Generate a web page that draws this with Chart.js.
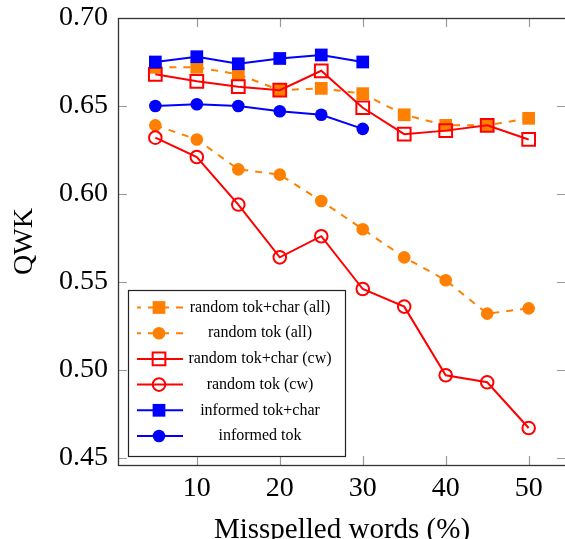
<!DOCTYPE html>
<html>
<head>
<meta charset="utf-8">
<script src="https://cdn.jsdelivr.net/npm/chart.js@4"></script>
<style>
  html, body { margin: 0; padding: 0; background: #fff; overflow: hidden; }
  #wrap { width: 565px; height: 539px; overflow: hidden; }
</style>
</head>
<body>
<div id="wrap"><canvas id="qwkChart" width="569" height="539"></canvas></div>
<script>
// 数据
const misspelled = [5, 10, 15, 20, 25, 30, 35, 40, 45, 50];
const randomTokCharAll = [0.672, 0.672, 0.668, 0.659, 0.660, 0.657, 0.645, 0.639, 0.639, 0.643];
const randomTokAll = [0.639, 0.631, 0.614, 0.611, 0.596, 0.580, 0.564, 0.551, 0.532, 0.535];
const randomTokCharCw = [0.668, 0.664, 0.661, 0.659, 0.670, 0.649, 0.634, 0.636, 0.639, 0.631];
const randomTokCw = [0.632, 0.621, 0.594, 0.564, 0.576, 0.546, 0.536, 0.497, 0.493, 0.467];
const informedTokChar = [0.675, 0.678, 0.674, 0.677, 0.679, 0.675];
const informedTok = [0.650, 0.651, 0.650, 0.647, 0.645, 0.637];

const xTicks = [10, 20, 30, 40, 50];
const yTicks = [0.45, 0.50, 0.55, 0.60, 0.65, 0.70];

const ORANGE = "#ff8000";
const RED = "#ff0000";
const BLUE = "#0000ff";
const SERIF = "'Liberation Serif', 'DejaVu Serif', serif";

const toPoints = (vals) => vals.map((v, i) => ({ x: misspelled[i], y: v }));

function series(label, vals, color, style, filled, dashed, idx) {
    return {
        label: label,
        data: toPoints(vals),
        borderColor: color,
        backgroundColor: filled ? color : "rgba(0,0,0,0)",
        borderWidth: 2,
        borderDash: dashed ? [7, 7] : [],
        pointStyle: style,
        pointRadius: style === "rect" ? 9 : 6.3,
        pointBorderWidth: filled ? 0 : 2,
        pointBackgroundColor: filled ? color : "rgba(0,0,0,0)",
        pointBorderColor: color,
        tension: 0,
        order: 10 - idx,
    };
}

// 坐标框与向内的刻度线
const framePlugin = {
    id: "frame",
    beforeDatasetsDraw(chart) {
        const { ctx, chartArea: a, scales } = chart;
        ctx.save();
        ctx.strokeStyle = "#9a9a9a";
        ctx.lineWidth = 1.2;
        const len = 9;
        ctx.beginPath();
        scales.x.ticks.forEach((t) => {
            const px = Math.round(scales.x.getPixelForValue(t.value)) + 0.5;
            ctx.moveTo(px, a.bottom); ctx.lineTo(px, a.bottom - len);
            ctx.moveTo(px, a.top); ctx.lineTo(px, a.top + len);
        });
        scales.y.ticks.forEach((t) => {
            const py = Math.round(scales.y.getPixelForValue(t.value)) + 0.5;
            ctx.moveTo(a.left, py); ctx.lineTo(a.left + len, py);
            ctx.moveTo(a.right, py); ctx.lineTo(a.right - len, py);
        });
        ctx.stroke();
        ctx.restore();
    },
    afterDatasetsDraw(chart) {
        const { ctx, chartArea: a } = chart;
        ctx.save();
        ctx.strokeStyle = "#333";
        ctx.lineWidth = 1.3;
        ctx.strokeRect(a.left + 0.5, a.top + 0.5, a.right - a.left, a.bottom - a.top);
        ctx.restore();
    },
};

// 图例（框内，线 + 标记 + 居中文字）
const legendBoxPlugin = {
    id: "legendBox",
    afterDraw(chart) {
        const { ctx, chartArea: a } = chart;
        const boxW = 217, boxH = 166;
        const left = a.left + 10;
        const top = a.bottom - 9 - boxH;
        ctx.save();
        ctx.fillStyle = "#fff";
        ctx.fillRect(left, top, boxW, boxH);
        ctx.strokeStyle = "#222";
        ctx.lineWidth = 1.2;
        ctx.strokeRect(left + 0.5, top + 0.5, boxW, boxH);

        chart.data.datasets.forEach((ds, i) => {
            const y = top + 17.5 + i * 25.7;
            const dashed = ds.borderDash.length > 0;
            ctx.strokeStyle = ds.borderColor;
            ctx.lineWidth = 2;
            ctx.setLineDash(dashed ? [7, 7] : []);
            ctx.lineDashOffset = dashed ? 3 : 0;
            ctx.beginPath();
            ctx.moveTo(left + 9, y);
            ctx.lineTo(left + 55, y);
            ctx.stroke();
            ctx.setLineDash([]);
            ctx.fillStyle = ds.pointBackgroundColor;
            ctx.strokeStyle = ds.pointBorderColor;
            ctx.lineWidth = ds.pointBorderWidth || 0.01;
            Chart.helpers.drawPoint(ctx, {
                pointStyle: ds.pointStyle,
                radius: ds.pointRadius,
                rotation: 0,
                borderWidth: ds.pointBorderWidth,
            }, left + 31, y);
            ctx.fillStyle = "#000";
            ctx.font = "16px " + SERIF;
            ctx.textAlign = "center";
            ctx.textBaseline = "middle";
            ctx.fillText(ds.label, left + 132, y);
        });
        ctx.restore();
    },
};

window.addEventListener("DOMContentLoaded", () => {
    const ctx = document.getElementById("qwkChart").getContext("2d");
    new Chart(ctx, {
        type: "line",
        data: {
            datasets: [
                series("random tok+char (all)", randomTokCharAll, ORANGE, "rect", true, true, 0),
                series("random tok (all)", randomTokAll, ORANGE, "circle", true, true, 1),
                series("random tok+char (cw)", randomTokCharCw, RED, "rect", false, false, 2),
                series("random tok (cw)", randomTokCw, RED, "circle", false, false, 3),
                series("informed tok+char", informedTokChar, BLUE, "rect", true, false, 4),
                series("informed tok", informedTok, BLUE, "circle", true, false, 5),
            ],
        },
        options: {
            responsive: false,
            devicePixelRatio: 1,
            animation: false,
            layout: { autoPadding: false, padding: { top: 18, right: 3, left: 0, bottom: 0 } },
            plugins: {
                legend: { display: false },
                tooltip: { enabled: false },
            },
            scales: {
                x: {
                    type: "linear",
                    min: 0.5,
                    max: 54.5,
                    afterBuildTicks: (s) => { s.ticks = xTicks.map((v) => ({ value: v })); },
                    afterFit: (s) => { s.height = 74; s.paddingLeft = 0; s.paddingRight = 0; },
                    grid: { display: false, drawTicks: false },
                    border: { display: false },
                    ticks: {
                        color: "#000",
                        font: { family: SERIF, size: 28 },
                        padding: 7,
                        maxRotation: 0,
                    },
                    title: {
                        display: true,
                        text: "Misspelled words (%)",
                        color: "#000",
                        font: { family: SERIF, size: 29, lineHeight: 0.58 },
                        padding: { top: 6, bottom: 0 },
                    },
                },
                y: {
                    min: 0.446,
                    max: 0.70,
                    afterBuildTicks: (s) => { s.ticks = yTicks.map((v) => ({ value: v })); },
                    afterFit: (s) => { s.width = 118; s.paddingTop = 0; s.paddingBottom = 0; },
                    grid: { display: false, drawTicks: false },
                    border: { display: false },
                    ticks: {
                        color: "#000",
                        font: { family: SERIF, size: 28 },
                        padding: 10,
                        callback: (v) => Number(v).toFixed(2),
                    },
                    title: {
                        display: true,
                        text: "QWK",
                        color: "#000",
                        font: { family: SERIF, size: 28, lineHeight: 1.35 },
                        padding: { top: 6, bottom: 0 },
                    },
                },
            },
        },
        plugins: [framePlugin, legendBoxPlugin],
    });
});
</script>
</body>
</html>
